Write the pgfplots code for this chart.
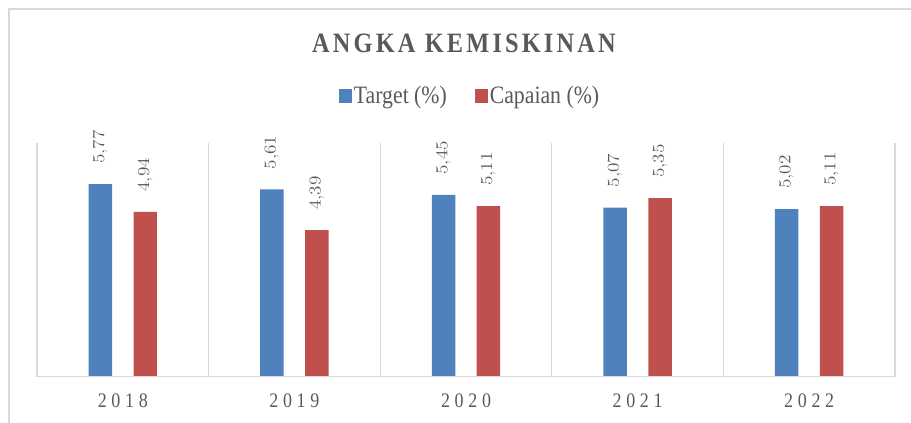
\documentclass[border=0pt]{standalone}
\usepackage{fontspec}
\setmainfont{Liberation Serif}
\usepackage{pgfplots}
\pgfplotsset{compat=1.18}
\definecolor{tblue}{HTML}{4F81BD}
\definecolor{cred}{HTML}{C0504D}
\definecolor{gridc}{HTML}{D9D9D9}
\definecolor{txt}{HTML}{595959}
\newcommand{\hx}[1]{\scalebox{0.87}[1]{#1}}
\newcommand{\ls}[1]{\hx{\addfontfeatures{LetterSpace=26}#1}}
\begin{document}
\begin{tikzpicture}
\useasboundingbox (0,0) rectangle (683.25pt,317.25pt);
\draw[gridc, line width=1.5pt] (6.75pt,-1pt) -- (6.75pt,310.5pt) -- (684pt,310.5pt);
\node[text=txt, font=\fontsize{21}{25}\selectfont\bfseries, inner sep=0pt] at (348pt,284.6pt)
  {\hx{\addfontfeatures{LetterSpace=13}ANGKA KEMISKINAN}};
\begin{axis}[
  at={(27.75pt,34.5pt)}, anchor=south west,
  scale only axis, width=643.5pt, height=175.5pt,
  xmin=-0.5, xmax=4.5, ymin=0, ymax=7,
  ybar=16.1pt, bar width=17.6pt,
  axis line style={draw=none},
  ytick=\empty,
  xtick={0,1,2,3,4},
  xticklabels={\ls{2018},\ls{2019},\ls{2020},\ls{2021},\ls{2022}},
  major tick length=0pt,
  minor xtick={-0.5,0.5,1.5,2.5,3.5,4.5},
  minor tick length=0pt,
  xminorgrids,
  minor grid style={gridc, line width=0.9pt},
  xticklabel style={anchor=base, yshift=-23.25pt, inner sep=0pt, text=txt, font=\fontsize{15.5}{18}\selectfont},
  nodes near coords={\scalebox{1}[0.87]{\pgfmathprintnumber{\pgfplotspointmeta}}},
  nodes near coords style={rotate=90, anchor=west, inner xsep=15pt, inner ysep=0pt, text=txt,
     font=\fontsize{15.5}{18}\selectfont,
     /pgf/number format/.cd, use comma, fixed, fixed zerofill, precision=2},
  legend columns=2,
  legend style={at={(0.5047,1.2009)}, anchor=center, draw=none, fill=none,
     font=\fontsize{18.75}{22}\selectfont, text=txt,
     /tikz/every even column/.append style={column sep=19.5pt},
     inner sep=0pt, nodes={inner sep=1.5pt}},
  legend image code/.code={\fill[#1] (0pt,-4.9pt) rectangle (9.75pt,4.9pt);},
]
\addplot[fill=tblue, draw=none] coordinates {(0,5.77) (1,5.61) (2,5.45) (3,5.07) (4,5.02)};
\addlegendentry{\hx{Target (\%)}}
\addplot[fill=cred, draw=none] coordinates {(0,4.94) (1,4.39) (2,5.11) (3,5.35) (4,5.11)};
\addlegendentry{\hx{Capaian (\%)}}
\draw[gridc, line width=1.2pt] (axis cs:-0.5,0) -- (axis cs:4.5,0);
\end{axis}
\end{tikzpicture}
\end{document}
